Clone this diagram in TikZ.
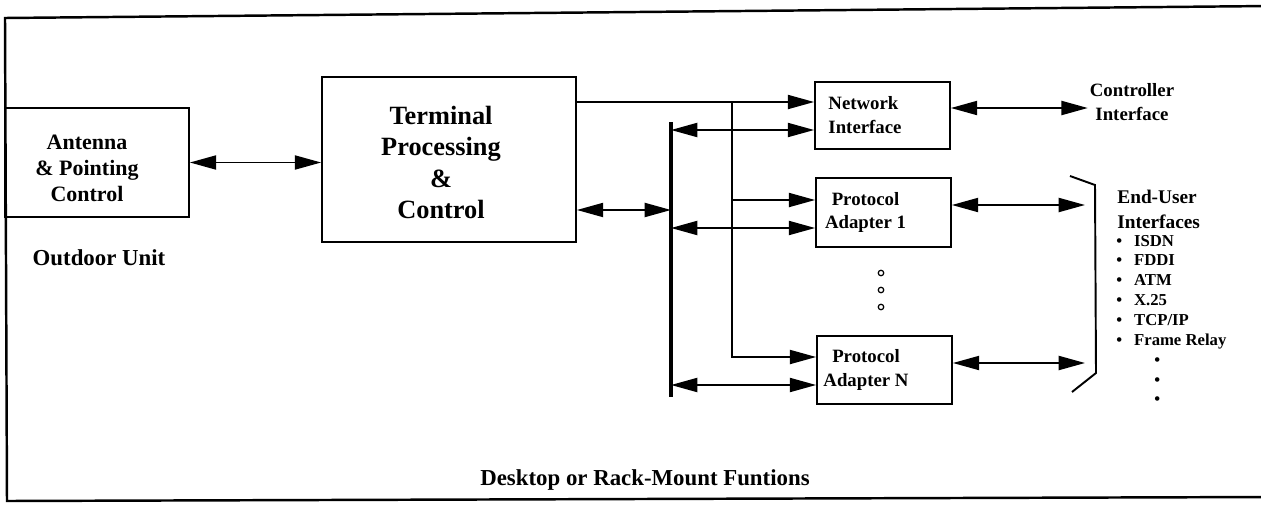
\documentclass[tikz,border=0pt]{standalone}
\usepackage{fontspec}
\setmainfont{Liberation Serif}
\usetikzlibrary{positioning,arrows.meta}

\begin{document}
\begin{tikzpicture}[
  x=0.02cm, y=-0.02cm,
  box/.style={draw, line width=1pt, inner sep=0pt},
  boxtext/.style={font=\fontsize{10.7}{13.6}\selectfont\bfseries, align=center},
  anttext/.style={font=\fontsize{12.5}{15}\selectfont\bfseries, align=center},
  bigtext/.style={font=\fontsize{15}{18}\selectfont\bfseries, align=center},
  lbl/.style={font=\fontsize{13}{15}\selectfont\bfseries, inner sep=1pt},
  eutext/.style={font=\fontsize{11}{14}\selectfont\bfseries, align=left, inner sep=0pt},
  listtext/.style={font=\fontsize{9.5}{11.3}\selectfont\bfseries, inner sep=0pt},
  link/.style={line width=1.1pt},
  arrow/.style={link, -{Triangle[length=15pt,width=8pt]}},
  dblarrow/.style={link, {Triangle[length=15pt,width=8pt]}-{Triangle[length=15pt,width=8pt]}},
  bus/.style={line width=2.4pt}
]
\useasboundingbox (0,0) rectangle (1261,504);
\draw[line width=1.4pt] (1270,6) -- (5,18) -- (7,501) -- (1270,497);

\node[box, minimum width=3.68cm, minimum height=2.18cm,
  label={[anttext, xshift=-0.2cm, yshift=-0.12cm]center:Antenna\\\& Pointing\\Control}] (ant) at (97,162.5) {};
\node[lbl] (odu) at (99,258) {Outdoor Unit};

\node[box, minimum width=5.08cm, minimum height=3.3cm,
  label={[bigtext, xshift=-0.16cm, yshift=-0.06cm]center:Terminal\\Processing\\\&\\Control}] (tpc) at (449,159.5) {};

\node[box, minimum width=2.7cm, minimum height=1.34cm,
  label={[boxtext, align=left, xshift=-0.35cm]center:Network\\Interface}] (ni) at (882.5,115.5) {};
\node[box, minimum width=2.7cm, minimum height=1.38cm,
  label={[boxtext, xshift=-0.36cm]center:Protocol\\Adapter 1}] (pa1) at (883.5,212.5) {};
\node[box, minimum width=2.7cm, minimum height=1.36cm,
  label={[boxtext, xshift=-0.37cm]center:Protocol\\Adapter N}] (pan) at (884.5,370) {};

\node[boxtext, inner sep=1pt] (ctrl) at (1132,102) {Controller\\Interface};
\node[eutext, anchor=west] (eu) at (1117,209.5) {End-User\\Interfaces};
\node[listtext, anchor=west] (eulist) at (1116,321.5) {%
  \begin{tabular}{@{}c@{\hspace{6.8pt}}l@{}}
  \textbullet & ISDN\\
  \textbullet & FDDI\\
  \textbullet & ATM\\
  \textbullet & X.25\\
  \textbullet & TCP/IP\\
  \textbullet & Frame Relay\\
   & \hspace{11.5pt}\textbullet\\
   & \hspace{11.5pt}\textbullet\\
   & \hspace{11.5pt}\textbullet
  \end{tabular}};

\node[lbl] (dsk) at (645,480) {Desktop or Rack-Mount Funtions};

\coordinate (bustop) at (671,122);
\coordinate (busbot) at (671,397);
\coordinate (split) at (732,102);
\coordinate (ni1) at ([yshift=0.27cm]ni.west);
\coordinate (ni2) at ([yshift=-0.29cm]ni.west);
\coordinate (pa11) at ([yshift=0.25cm]pa1.west);
\coordinate (pa12) at ([yshift=-0.31cm]pa1.west);
\coordinate (pan1) at ([yshift=0.26cm]pan.west);
\coordinate (pan2) at ([yshift=-0.3cm]pan.west);
\coordinate (tpcout) at ([yshift=-1.01cm]tpc.east);
\coordinate (niout) at ([yshift=0.15cm]ni.east);
\coordinate (eu1) at (1085,205);
\coordinate (eun) at (1085,363);

\draw[dblarrow] (ant.east) -- (ant.east -| tpc.west);
\draw[bus] (bustop) -- (busbot);
\draw[dblarrow] (tpcout) -- (tpcout -| bustop);
\draw[arrow] (tpc.east |- ni1) -- (ni1);
\draw[arrow] (split |- ni1) -- (split |- pan1) -- (pan1);
\draw[arrow] (split |- pa11) -- (pa11);
\draw[dblarrow] (bustop |- ni2) -- (ni2);
\draw[dblarrow] (bustop |- pa12) -- (pa12);
\draw[dblarrow] (bustop |- pan2) -- (pan2);
\draw[dblarrow] (niout) -- (niout -| ctrl.west);
\draw[dblarrow] (pa1.east |- eu1) -- (eu1);
\draw[dblarrow] (pan.east |- eun) -- (eun);

\draw[link] (1070,176) -- (1095,185) -- (1096,373) -- (1072,392);
\foreach \y in {273,290,307}
  \draw[line width=0.7pt] (881,\y) circle[radius=0.055cm];
\end{tikzpicture}
\end{document}
